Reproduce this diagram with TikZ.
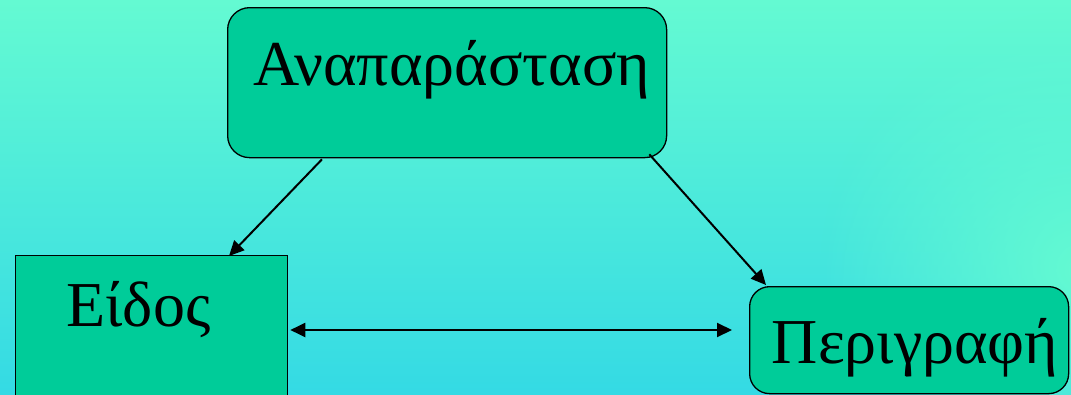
\documentclass[tikz,border=0pt]{standalone}
\usepackage{fontspec}
\setmainfont{Liberation Serif}
\usetikzlibrary{arrows.meta,calc,fadings}
\definecolor{bgtop}{RGB}{100,250,210}
\definecolor{bgbot}{RGB}{52,218,228}
\definecolor{boxfill}{RGB}{0,204,153}
\tikzfading[name=glowfade, inner color=transparent!0, outer color=transparent!100]
\begin{document}
\begin{tikzpicture}[x=1pt,y=-1pt,
  box/.style={draw=black, line width=1.3pt, fill=boxfill, inner sep=0pt, anchor=north west},
  lbl/.style={font=\fontsize{64}{70}\selectfont, anchor=base, inner sep=0pt},
  conn/.style={line width=2pt, -{Triangle[length=15pt,width=14pt]}},
  biconn/.style={line width=2pt, {Triangle[length=15pt,width=14pt]}-{Triangle[length=15pt,width=14pt]}}]
\useasboundingbox (0,0) rectangle (1071,394);
\clip (0,0) rectangle (1071,394);
\shade[top color=bgtop, bottom color=bgbot] (0,0) rectangle (1071,394);
\fill[bgtop, path fading=glowfade] (1080,270) circle (260);
\node[box, rounded corners=22pt, minimum width=439pt, minimum height=150pt] (rep) at (227,7) {};
\node[lbl] (repl) at (451.5,85) {Αναπαράσταση};
\node[box, minimum width=272pt, minimum height=160pt] (eid) at (15,255) {};
\node[lbl] (eidl) at (138.5,326) {Είδος};
\node[box, rounded corners=20pt, minimum width=319pt, minimum height=107pt] (per) at (749,286) {};
\node[lbl] (perl) at (915,363) {Περιγραφή};
\draw[conn] ($(rep.south west)+(95,1)$) -- ($(eid.north west)+(214,1)$);
\draw[conn] ($(rep.south east)+(-18,-4)$) -- ($(per.north west)+(17,-1)$);
\draw[biconn] ($(eid.north east)+(2,75)$) -- ($(per.north west)+(-17,44)$);
\end{tikzpicture}
\end{document}
